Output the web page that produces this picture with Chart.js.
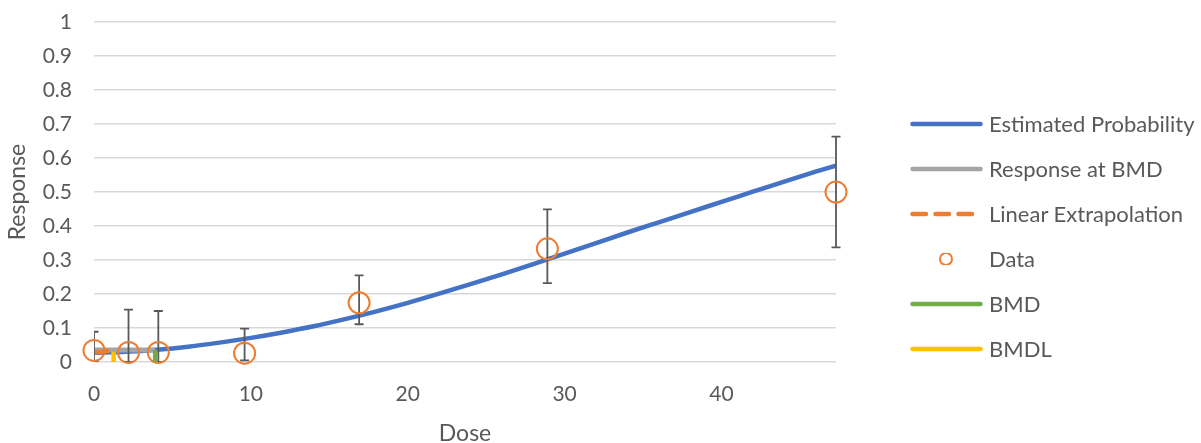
<!DOCTYPE html>
<html>
<head>
<meta charset="utf-8">
<script src="https://cdn.jsdelivr.net/npm/chart.js@4.4.1/dist/chart.umd.min.js"></script>
<style>
  body { margin: 0; background: #fff; }
  #wrap { position: relative; width: 1201px; height: 443px; }
  #legend { position: absolute; left: 910px; top: 101px; font-family: Lato, sans-serif; font-size: 22px; color: #595959; }
  #legend .row { height: 45px; display: flex; align-items: center; white-space: nowrap; }
  #legend svg { width: 73px; height: 12px; margin-right: 6px; }
</style>
</head>
<body>
<div id="wrap">
  <canvas id="chart" width="1201" height="443"></canvas>
  <div id="legend"></div>
</div>
<script>
// fitted curve
var curveDose = [0, 2, 4, 6, 8, 10, 12, 14, 16, 18, 20, 22, 24, 26, 28, 30, 32, 34, 36, 38, 40, 42, 44, 46, 47.3];
var curveResp = [0.027, 0.030, 0.036, 0.045, 0.057, 0.071, 0.087, 0.105, 0.126, 0.149, 0.174, 0.201, 0.229, 0.258, 0.288, 0.319, 0.350, 0.381, 0.411, 0.441, 0.471, 0.501, 0.531, 0.560, 0.578];

// observed data with error bars
var dataDose = [0, 2.2, 4.1, 9.6, 16.9, 28.9, 47.3];
var dataResp = [0.034, 0.028, 0.028, 0.026, 0.174, 0.333, 0.5];
var errLow   = [0.003, 0, 0, 0.005, 0.111, 0.232, 0.337];
var errHigh  = [0.089, 0.154, 0.150, 0.098, 0.255, 0.449, 0.663];

// BMD markers
var bmd = 3.9, bmdl = 1.25;
var bgResp = 0.027, bmdResp = 0.035, bmdlTop = 0.03;

var yTicks = [0, 0.1, 0.2, 0.3, 0.4, 0.5, 0.6, 0.7, 0.8, 0.9, 1];

var blue = "#4472C4", orange = "#ED7D31", gray = "#A5A5A5", green = "#70AD47", yellow = "#FFC000";

function pts(xs, ys) {
    var out = [];
    for (let i = 0; i < xs.length; i++) out.push({x: xs[i], y: ys[i]});
    return out;
}

// draws the error bars of the Data series just before its circles
const errorBars = {
    id: 'errorBars',
    beforeDatasetDraw(chart, args) {
        if (args.index !== 3) return;
        const ctx = chart.ctx, xs = chart.scales.x, ys = chart.scales.y, ca = chart.chartArea;
        ctx.save();
        ctx.beginPath();
        ctx.rect(ca.left, 0, ca.right - ca.left + 20, chart.height);
        ctx.clip();
        ctx.strokeStyle = "#595959";
        ctx.lineWidth = 1.8;
        for (let i = 0; i < dataDose.length; i++) {
            const x = xs.getPixelForValue(dataDose[i]);
            const y1 = ys.getPixelForValue(errLow[i]);
            const y2 = ys.getPixelForValue(errHigh[i]);
            ctx.beginPath();
            ctx.moveTo(x, y1); ctx.lineTo(x, y2);
            ctx.moveTo(x - 4.5, y1); ctx.lineTo(x + 4.5, y1);
            ctx.moveTo(x - 4.5, y2); ctx.lineTo(x + 4.5, y2);
            ctx.stroke();
        }
        ctx.restore();
    }
};

var fontFam = "Lato, sans-serif";

var config = {
    type: "scatter",
    data: {
        datasets: [
            { label: "Estimated Probability", data: pts(curveDose, curveResp), showLine: true, borderColor: blue, borderWidth: 4.5,
              pointRadius: 0, cubicInterpolationMode: "monotone", order: 6 },
            { label: "Response at BMD", data: pts([0, bmd], [bmdResp, bmdResp]), showLine: true, borderColor: gray, borderWidth: 5,
              pointRadius: 0, order: 5 },
            { label: "Linear Extrapolation", data: pts([0, bmdl], [bgResp, bmdResp]), showLine: true, borderColor: orange, borderWidth: 4.5,
              borderDash: [15, 6], pointRadius: 0, order: 4 },
            { label: "Data", data: pts(dataDose, dataResp), showLine: false, borderColor: orange, backgroundColor: "rgba(0,0,0,0)",
              pointRadius: 10.5, pointBorderWidth: 2, clip: false, order: 3 },
            { label: "BMD", data: pts([bmd, bmd], [0, bmdResp]), showLine: true, borderColor: green, borderWidth: 4.5,
              pointRadius: 0, order: 2 },
            { label: "BMDL", data: pts([bmdl, bmdl], [0, bmdlTop]), showLine: true, borderColor: yellow, borderWidth: 4.5,
              pointRadius: 0, order: 1 }
        ]
    },
    options: {
        responsive: false,
        animation: false,
        layout: { padding: { top: 0, right: 365, bottom: 0, left: 0 } },
        plugins: { legend: { display: false }, tooltip: { enabled: false } },
        scales: {
            x: {
                type: "linear",
                min: 0, max: 47.3,
                afterFit: function(s) { s.height = 81; },
                grid: { display: false, drawTicks: false },
                border: { display: false },
                ticks: { stepSize: 10, includeBounds: false, padding: 20, color: "#595959", font: { family: fontFam, size: 21 } },
                title: { display: true, text: "Dose", color: "#595959", padding: 0, font: { family: fontFam, size: 23, lineHeight: 0.8 } }
            },
            y: {
                min: 0, max: 1,
                afterFit: function(s) { s.width = 94; },
                afterBuildTicks: function(s) { s.ticks = yTicks.map(v => ({value: v})); },
                grid: { color: "#D9D9D9", lineWidth: 1.4, drawTicks: false },
                border: { display: false },
                // small lineHeight keeps the top padding at the tick padding only
                ticks: { padding: 22, color: "#595959", font: { family: fontFam, size: 21, lineHeight: 0.01 }, callback: v => String(v) },
                title: { display: true, text: "Response", color: "#595959", padding: { top: 4, bottom: 0 }, font: { family: fontFam, size: 23 } }
            }
        }
    },
    plugins: [errorBars]
};

new Chart(document.getElementById("chart"), config);

// legend, same order as the series
var legendItems = [
    { text: "Estimated Probability", kind: "line", color: blue },
    { text: "Response at BMD", kind: "line", color: gray },
    { text: "Linear Extrapolation", kind: "dash", color: orange },
    { text: "Data", kind: "circle", color: orange },
    { text: "BMD", kind: "line", color: green },
    { text: "BMDL", kind: "line", color: yellow }
];
var legend = document.getElementById("legend");
legendItems.forEach(function(it) {
    var sw;
    if (it.kind === "circle") {
        sw = '<circle cx="36" cy="6" r="6" fill="none" stroke="' + it.color + '" stroke-width="2"/>';
    } else {
        var dash = it.kind === "dash" ? ' stroke-dasharray="13.5 9.5"' : '';
        sw = '<line x1="2.5" y1="6" x2="70.5" y2="6" stroke="' + it.color + '" stroke-width="4.5" stroke-linecap="round"' + dash + '/>';
    }
    var row = document.createElement("div");
    row.className = "row";
    row.innerHTML = '<svg viewBox="0 0 73 12">' + sw + '</svg><span>' + it.text + '</span>';
    legend.appendChild(row);
});
</script>
</body>
</html>
